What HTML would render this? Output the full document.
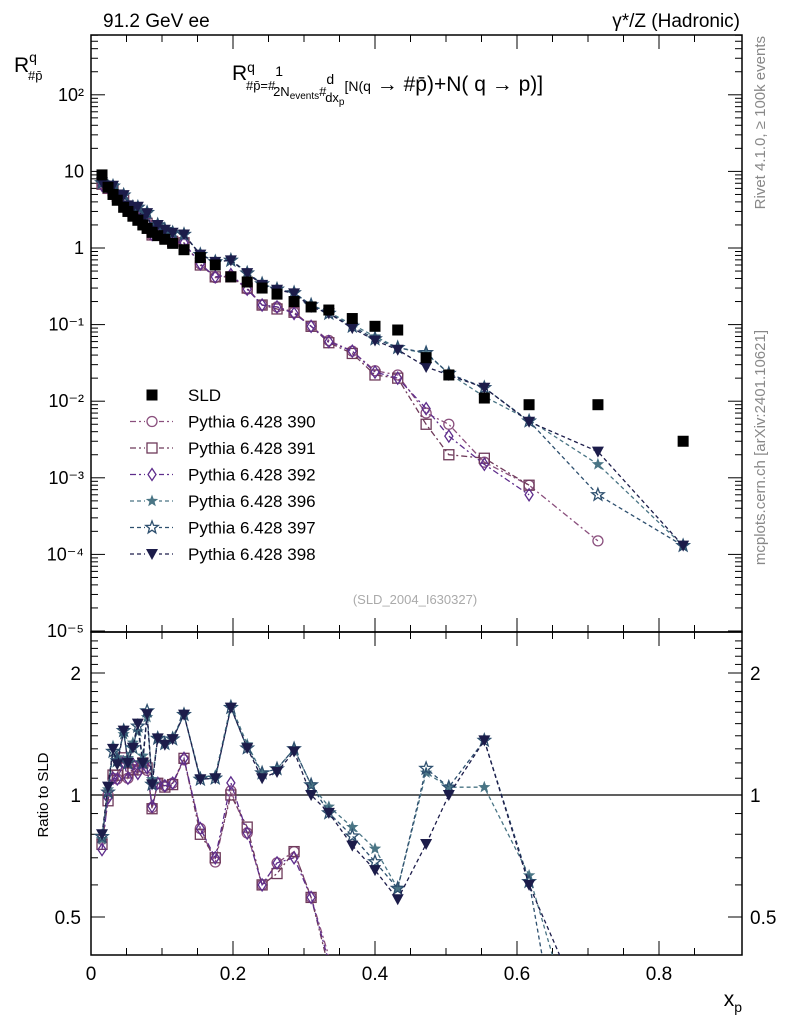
<!DOCTYPE html>
<html><head><meta charset="utf-8"><style>
html,body{margin:0;padding:0;background:#fff;font-family:"Liberation Sans",sans-serif;overflow:hidden;width:786px;height:1024px}
svg{display:block}
svg text{font-family:"Liberation Sans","DejaVu Sans",sans-serif}
</style></head><body>
<svg id="c" width="786" height="1024" xmlns="http://www.w3.org/2000/svg">
<text x="103" y="27" font-size="19">91.2 GeV ee</text>
<text x="740" y="27" font-size="19" text-anchor="end">γ*/Z (Hadronic)</text>
<text x="765" y="36" font-size="15" fill="#888" text-anchor="end" transform="rotate(-90 765 36)">Rivet 4.1.0, ≥ 100k events</text>
<text x="765" y="330" font-size="15" fill="#888" text-anchor="end" transform="rotate(-90 765 330)">mcplots.cern.ch [arXiv:2401.10621]</text>
<text x="14" y="72" font-size="21">R<tspan dy="-10" font-size="14">q</tspan><tspan dx="-9" dy="18" font-size="13">#p̄</tspan></text>
<text x="232" y="80" font-size="21">R<tspan dy="-8" font-size="14">q</tspan><tspan dx="-9" dy="18" font-size="13">#p̄=#</tspan><tspan dy="-14" font-size="14">1</tspan><tspan dx="-10" dy="20" font-size="13">2N</tspan><tspan dy="3" font-size="10">events</tspan><tspan dy="-3" font-size="13">#</tspan><tspan dy="-12" font-size="14">d</tspan><tspan dx="-9" dy="18" font-size="13">dx</tspan><tspan dy="3" font-size="10">p</tspan><tspan dy="-14" font-size="14">[N(q</tspan><tspan dy="0" font-size="21"> → #p̄)+N( q → p)]</tspan></text>
<text x="415" y="604" font-size="13" fill="#aaa" text-anchor="middle">(SLD_2004_I630327)</text>
<text x="48" y="795" font-size="15" text-anchor="middle" transform="rotate(-90 48 795)">Ratio to SLD</text>
<text x="742" y="1006" font-size="21" text-anchor="end">x<tspan dy="6" font-size="14">p</tspan></text>
<g id="g"></g>
</svg>
<script>
const xs=[0.0155,0.024,0.031,0.037,0.046,0.052,0.059,0.066,0.073,0.079,0.086,0.094,0.104,0.115,0.131,0.154,0.175,0.197,0.22,0.241,0.262,0.286,0.31,0.335,0.368,0.4,0.432,0.472,0.504,0.554,0.617,0.714,0.834];
const sld=[9,6.2,5.0,4.2,3.4,3.0,2.6,2.3,2.0,1.8,1.6,1.45,1.3,1.15,0.95,0.75,0.6,0.42,0.36,0.3,0.25,0.2,0.17,0.155,0.12,0.095,0.085,0.037,0.022,0.011,0.009,0.009,0.003];
const p390=[7.0,6.2,5.5,4.6,4.1,3.3,3.0,2.65,2.4,2.07,1.49,1.55,1.37,1.23,1.16,0.62,0.41,0.43,0.29,0.18,0.17,0.145,0.095,0.062,0.045,0.025,0.022,0.007,0.005,0.0016,0.0008,0.00015];
const p391=[6.8,6.0,5.6,4.7,4.2,3.4,3.0,2.7,2.4,2.1,1.48,1.55,1.36,1.22,1.17,0.6,0.42,0.42,0.3,0.18,0.16,0.145,0.095,0.058,0.042,0.022,0.02,0.005,0.002,0.0018,0.0008];
const p392=[6.6,6.1,5.5,4.6,4.1,3.3,3.1,2.6,2.4,2.1,1.5,1.55,1.37,1.23,1.17,0.62,0.42,0.45,0.29,0.18,0.17,0.14,0.095,0.06,0.045,0.024,0.02,0.008,0.0035,0.0015,0.0006];
const p396=[7.0,6.4,6.6,5.2,4.8,3.7,3.5,3.3,2.5,2.8,1.75,2.0,1.75,1.6,1.5,0.83,0.67,0.7,0.48,0.34,0.29,0.26,0.18,0.145,0.1,0.07,0.05,0.042,0.023,0.0115,0.0057,0.0015,0.00013];
const p397=[7.1,6.3,6.4,5.1,4.9,3.6,3.4,3.4,2.4,2.9,1.7,2.0,1.74,1.58,1.5,0.82,0.66,0.69,0.47,0.34,0.29,0.26,0.18,0.14,0.095,0.065,0.05,0.043,0.023,0.015,0.0055,0.0006,0.00013];
const p398=[7.2,6.5,6.5,5.0,4.9,3.6,3.4,3.45,2.4,2.85,1.7,2.0,1.73,1.58,1.5,0.82,0.66,0.69,0.47,0.33,0.285,0.256,0.17,0.14,0.09,0.062,0.047,0.028,0.022,0.015,0.0054,0.0022,0.00013];
const xTicks=[0,0.2,0.4,0.6,0.8];
const yTicks=["10⁻⁵","10⁻⁴","10⁻³","10⁻²","10⁻¹","1","10","10²"];
const rTicks=[0.5,1,2];

const NS="http://www.w3.org/2000/svg",G=document.getElementById('g');
const L=91,R=742,T1=35,B1=632,T2=632,B2=955;
const X=v=>L+v*710;
const Y=v=>248-76.6*Math.log10(v);
const YR=v=>795-122*Math.log2(v);
function el(t,a,p){const e=document.createElementNS(NS,t);for(const k in a)e.setAttribute(k,a[k]);(p||G).appendChild(e);return e;}
const defs=el('defs',{});
const c1=el('clipPath',{id:'c1'},defs);el('rect',{x:L,y:T1,width:R-L,height:B1-T1},c1);
const c2=el('clipPath',{id:'c2'},defs);el('rect',{x:L,y:T2,width:R-L,height:B2-T2},c2);
const f1=el('rect',{x:L,y:T1,width:R-L,height:B1-T1,fill:'none',stroke:'#000','stroke-width':1.5});


const f2=el('rect',{x:L,y:T2,width:R-L,height:B2-T2,fill:'none',stroke:'#000','stroke-width':1.5});


for(let e=-5;e<=2;e++){
  for(let m=1;m<10;m++){const v=m*Math.pow(10,e),y=Y(v);if(y<T1||y>B1)continue;const len=m==1?14:7;
    el('line',{x1:L,x2:L+len,y1:y,y2:y,stroke:'#000'});el('line',{x1:R,x2:R-len,y1:y,y2:y,stroke:'#000'});}
  const t=el('text',{x:L-7,y:Y(Math.pow(10,e))+6,'font-size':18,'text-anchor':'end'});t.textContent=yTicks[e+5];
  
  
}
for(let v=0.4;v<=2.5;v+=0.1){const y=YR(v);if(y<T2||y>B2)continue;const maj=rTicks.some(r=>Math.abs(r-v)<1e-6);const len=maj?14:7;
  el('line',{x1:L,x2:L+len,y1:y,y2:y,stroke:'#000'});el('line',{x1:R,x2:R-len,y1:y,y2:y,stroke:'#000'});}
rTicks.forEach(v=>{const y=YR(v);
  const t=el('text',{x:L-10,y:y+7,'font-size':19,'text-anchor':'end'});t.textContent=v;
  
  
  const t2=el('text',{x:R+8,y:y+7,'font-size':19});t2.textContent=v;
  
  });
el('line',{x1:L,x2:R,y1:YR(1),y2:YR(1),stroke:'#000','stroke-width':1.2});
for(let v=0;v<=0.9;v+=0.05){const x=X(v);const maj=Math.abs(v*5-Math.round(v*5))<1e-6;const len=maj?14:7;
  [[T1,1],[B1,-1],[T2,1],[B2,-1]].forEach(([yy,d])=>el('line',{x1:x,x2:x,y1:yy,y2:yy+d*len,stroke:'#000'}));}
xTicks.forEach(v=>{const t=el('text',{x:X(v),y:B2+25,'font-size':19,'text-anchor':'middle'});t.textContent=v;
  
  });
function star(x,y,r){let p=[];for(let i=0;i<10;i++){const a=-Math.PI/2+i*Math.PI/5,rr=i%2?r*0.42:r;p.push((x+rr*Math.cos(a)).toFixed(1)+','+(y+rr*Math.sin(a)).toFixed(1));}return p.join(' ');}
function marker(k,x,y,col,parent){
  if(k=='sq')return el('rect',{x:x-5.5,y:y-5.5,width:11,height:11,fill:'#000'},parent);
  if(k=='circ')return el('circle',{cx:x,cy:y,r:5,fill:'none',stroke:col,'stroke-width':1.3},parent);
  if(k=='osq')return el('rect',{x:x-5,y:y-5,width:10,height:10,fill:'none',stroke:col,'stroke-width':1.3},parent);
  if(k=='dia')return el('polygon',{points:`${x},${y-6} ${x+4},${y} ${x},${y+6} ${x-4},${y}`,fill:'none',stroke:col,'stroke-width':1.3},parent);
  if(k=='fstar')return el('polygon',{points:star(x,y,6.5),fill:col},parent);
  if(k=='ostar')return el('polygon',{points:star(x,y,6.5),fill:'none',stroke:col,'stroke-width':1.3},parent);
  if(k=='tri')return el('polygon',{points:`${x-6},${y-5} ${x+6},${y-5} ${x},${y+6}`,fill:col},parent);
}
// clip a pixel polyline vertically to [lo,hi], returns list of point strings
function clipLines(p,lo,hi){
  const out=[];let cur=[];
  const inb=y=>y>=lo&&y<=hi;
  for(let i=0;i<p.length;i++){
    const [x,y]=p[i];
    if(i>0){const [x0,y0]=p[i-1];
      if(inb(y0)!==inb(y)){const b=inb(y0)?(y>hi?hi:lo):(y0>hi?hi:lo);const t=(b-y0)/(y-y0);
        const xi=x0+t*(x-x0);
        if(inb(y0)){cur.push([xi,b]);out.push(cur);cur=[];}
        else{cur=[[xi,b]];}
      } else if(!inb(y0)&&!inb(y)){continue;}
    }
    if(inb(y))cur.push([x,y]);
  }
  if(cur.length>1)out.push(cur);
  return out.filter(s=>s.length>1).map(s=>s.map(q=>q[0].toFixed(1)+','+q[1].toFixed(1)).join(' '));
}
const series=[
 {n:'390',d:p390,c:'#8a4f7d',m:'circ',da:'6,3,2,3'},
 {n:'391',d:p391,c:'#6e3a5a',m:'osq',da:'6,3,2,3'},
 {n:'392',d:p392,c:'#5e2d8c',m:'dia',da:'6,3,2,3'},
 {n:'396',d:p396,c:'#4a7585',m:'fstar',da:'4,3'},
 {n:'397',d:p397,c:'#2d4f6e',m:'ostar',da:'4,3'},
 {n:'398',d:p398,c:'#1c1c4a',m:'tri',da:'4,3'}];
const gm=el('g',{'clip-path':'url(#c1)'}),gr=el('g',{'clip-path':'url(#c2)'});
series.forEach(s=>{
  const pts=s.d.map((v,i)=>X(xs[i]).toFixed(1)+','+Y(v).toFixed(1)).join(' ');
  const ln=el('polyline',{points:pts,fill:'none',stroke:s.c,'stroke-width':1.3,'stroke-dasharray':s.da},gm);
  
  
  const rpx=s.d.map((v,i)=>[X(xs[i]),YR(v/sld[i])]);
  clipLines(rpx,T2,B2).forEach(ps=>{
    const rl=el('polyline',{points:ps,fill:'none',stroke:s.c,'stroke-width':1.3,'stroke-dasharray':s.da},gr);
    
    
  });
  s.d.forEach((v,i)=>{
    const m=marker(s.m,X(xs[i]),Y(v),s.c,gm);
    
    
    const yr=YR(v/sld[i]);
    if(yr>=T2&&yr<=B2){
      const m2=marker(s.m,X(xs[i]),yr,s.c,gr);
      
      
    }
  });
});
sld.forEach((v,i)=>{const m=marker('sq',X(xs[i]),Y(v),'#000',gm);
  
  });
const labels=['SLD'].concat(series.map(s=>'Pythia 6.428 '+s.n));
labels.forEach((lb,i)=>{const y=395+i*26.5;
  const lg=el('g',{});
  
  
  if(i==0)marker('sq',152,y,'#000',lg);
  else{const s=series[i-1];el('line',{x1:130,x2:173,y1:y,y2:y,stroke:s.c,'stroke-width':1.3,'stroke-dasharray':s.da},lg);
    el('rect',{x:145,y:y-7,width:14,height:14,fill:'#fff'},lg);marker(s.m,152,y,s.c,lg);}
  const t=el('text',{x:188,y:y+6,'font-size':17},lg);t.textContent=lb;});
</script>
</body></html>
